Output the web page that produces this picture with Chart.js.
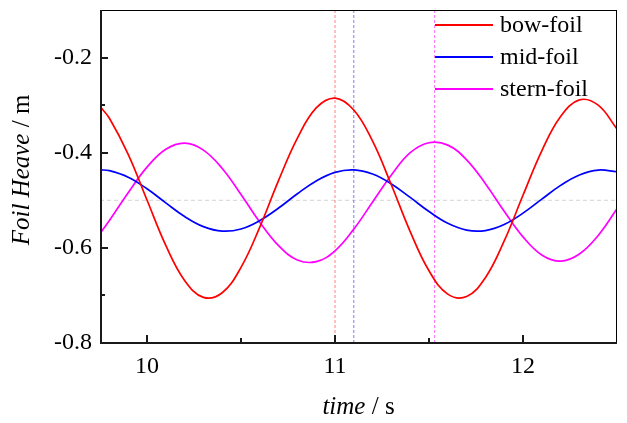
<!DOCTYPE html>
<html>
<head>
<meta charset="utf-8">
<script src="https://cdn.jsdelivr.net/npm/chart.js@4.4.1/dist/chart.umd.min.js"></script>
<style>
  html, body { margin: 0; padding: 0; background: #ffffff; }
  canvas { display: block; }
</style>
</head>
<body>
<canvas id="c" width="627" height="423"></canvas>
<script>
// ---------------- data ----------------
const times = [9.75, 9.8, 9.9, 10.0, 10.1, 10.2, 10.3, 10.4, 10.5, 10.6, 10.7, 10.8, 10.9, 11.0,
  11.1, 11.2, 11.3, 11.4, 11.5, 11.6, 11.7, 11.8, 11.9, 12.0, 12.1, 12.2, 12.3, 12.4, 12.5];
const bowFoil = [-0.303, -0.3275, -0.4033, -0.4995, -0.5949, -0.6685, -0.704, -0.6943, -0.641, -0.5563,
  -0.4581, -0.3692, -0.3058, -0.2851, -0.3103, -0.3758, -0.4678, -0.5657, -0.6482, -0.6973,
  -0.7024, -0.6627, -0.5855, -0.4895, -0.396, -0.324, -0.289, -0.300, -0.350];
const midFoil = [-0.436, -0.4378, -0.4516, -0.4758, -0.5055, -0.5341, -0.5553, -0.5648, -0.5603, -0.5426,
  -0.5163, -0.4862, -0.4593, -0.4413, -0.4361, -0.4449, -0.4657, -0.494, -0.5237, -0.5485,
  -0.5628, -0.5636, -0.5509, -0.527, -0.4976, -0.4687, -0.4468, -0.4364, -0.4400];
const sternFoil = [-0.570, -0.5426, -0.4842, -0.4304, -0.3929, -0.380, -0.3945, -0.4331, -0.4877, -0.5461,
  -0.5955, -0.6254, -0.6291, -0.6062, -0.5606, -0.5036, -0.4467, -0.400, -0.379, -0.384,
  -0.415, -0.465, -0.523, -0.577, -0.615, -0.628, -0.613, -0.574, -0.518];
const seriesNames = ['bow-foil', 'mid-foil', 'stern-foil'];
const peakTimes = [11.0, 11.1, 11.53];      // vertical dashed markers
const meanLevel = -0.5;                      // horizontal dashed marker
const xRange = [9.75, 12.5];
const yRange = [-0.8, -0.1];
const xTickLabels = [10, 11, 12];
const xMinorTicks = [10.5, 11.5];
const yTickLabels = [-0.8, -0.6, -0.4, -0.2];
const yMinorTicks = [-0.7, -0.3];

// ---------------- styles ----------------
const FONT = "'Liberation Serif', 'Times New Roman', serif";
const lineColors = ['#ff0000', '#0000ff', '#ff00ff'];
const markerColors = ['rgba(255,90,90,0.75)', 'rgba(80,80,255,0.75)', 'rgba(255,80,255,0.85)'];

const series = [bowFoil, midFoil, sternFoil];
const datasets = series.map((vals, i) => ({
  label: seriesNames[i],
  data: times.map((t, k) => ({ x: t, y: vals[k] })),
  borderColor: lineColors[i],
  borderWidth: 1.7,
  pointRadius: 0,
  tension: 0.4,
  fill: false,
  order: 1
}));
peakTimes.forEach((t, i) => {
  datasets.push({
    label: 'marker' + i,
    data: [{ x: t, y: yRange[0] }, { x: t, y: yRange[1] }],
    borderColor: markerColors[i],
    borderWidth: 1,
    borderDash: [3, 2],
    pointRadius: 0,
    order: 5
  });
});
datasets.push({
  label: 'mean',
  data: [{ x: xRange[0], y: meanLevel }, { x: xRange[1], y: meanLevel }],
  borderColor: 'rgba(200,200,200,0.8)',
  borderWidth: 1,
  borderDash: [4, 3],
  pointRadius: 0,
  order: 6
});

const framePlugin = {
  id: 'frame',
  afterDraw(chart) {
    const { ctx, chartArea: { left, right, top, bottom }, scales: { x, y } } = chart;
    ctx.save();
    ctx.fillStyle = '#000';
    ctx.fillRect(left, top, right - left, 1);
    ctx.fillRect(right - 1, top, 1, bottom - top);
    ctx.fillStyle = '#1a1a1a';
    ctx.fillRect(left, top, 2, bottom - top + 1);
    ctx.fillRect(left, bottom - 1, right - left, 2);
    xTickLabels.forEach(v => { const p = Math.round(x.getPixelForValue(v)); ctx.fillRect(p - 1, bottom - 8, 2, 8); });
    xMinorTicks.forEach(v => { const p = Math.round(x.getPixelForValue(v)); ctx.fillRect(p - 1, bottom - 5, 2, 5); });
    yTickLabels.forEach(v => { const p = Math.round(y.getPixelForValue(v)); ctx.fillRect(left, p - 1, 8, 2); });
    yMinorTicks.forEach(v => { const p = Math.round(y.getPixelForValue(v)); ctx.fillRect(left, p - 1, 5, 2); });

    // legend
    ctx.textBaseline = 'middle';
    ctx.textAlign = 'left';
    ctx.font = '24px ' + FONT;
    ctx.fillStyle = '#000';
    seriesNames.forEach((name, i) => {
      const yy = 25 + i * 32;
      ctx.strokeStyle = lineColors[i];
      ctx.lineWidth = 2;
      ctx.beginPath();
      ctx.moveTo(435, yy);
      ctx.lineTo(493, yy);
      ctx.stroke();
      ctx.fillText(name, 500, yy + 1);
    });

    // axis titles
    ctx.textBaseline = 'alphabetic';
    const it = 'italic 25px ' + FONT, nm = '25px ' + FONT;
    // x title
    ctx.font = it; const a1 = ctx.measureText('time').width;
    ctx.font = nm; const a2 = ctx.measureText(' / s').width;
    const cx = (left + right) / 2;
    let sx = cx - (a1 + a2) / 2;
    ctx.font = it; ctx.fillText('time', sx, 414);
    ctx.font = nm; ctx.fillText(' / s', sx + a1, 414);
    // y title
    ctx.translate(29, 170);
    ctx.rotate(-Math.PI / 2);
    ctx.font = it; const b1 = ctx.measureText('Foil Heave').width;
    ctx.font = nm; const b2 = ctx.measureText(' / m').width;
    let sy = -(b1 + b2) / 2;
    ctx.font = it; ctx.fillText('Foil Heave', sy, 0);
    ctx.font = nm; ctx.fillText(' / m', sy + b1, 0);
    ctx.restore();
  }
};

new Chart(document.getElementById('c'), {
  type: 'line',
  data: { datasets },
  options: {
    responsive: false,
    devicePixelRatio: 1,
    animation: false,
    events: [],
    layout: { padding: { top: 10, right: 10, left: 0, bottom: 0 } },
    plugins: { legend: { display: false }, tooltip: { enabled: false } },
    scales: {
      x: {
        type: 'linear',
        min: xRange[0], max: xRange[1],
        afterBuildTicks: s => { s.ticks = xTickLabels.map(v => ({ value: v })); },
        afterFit: s => { s.height = 80; s.paddingLeft = 0; s.paddingRight = 0; },
        grid: { display: false, drawTicks: false },
        border: { display: false },
        ticks: { padding: 9, color: '#000', font: { family: FONT, size: 24 }, maxRotation: 0,
          callback: v => String(v) }
      },
      y: {
        type: 'linear',
        min: yRange[0], max: yRange[1],
        afterBuildTicks: s => { s.ticks = yTickLabels.map(v => ({ value: v })); },
        afterFit: s => { s.width = 100; s.paddingTop = 0; s.paddingBottom = 0; },
        grid: { display: false, drawTicks: false },
        border: { display: false },
        ticks: { padding: 8, color: '#000', font: { family: FONT, size: 24 },
          callback: v => v.toFixed(1) }
      }
    }
  },
  plugins: [framePlugin]
});
</script>
</body>
</html>
